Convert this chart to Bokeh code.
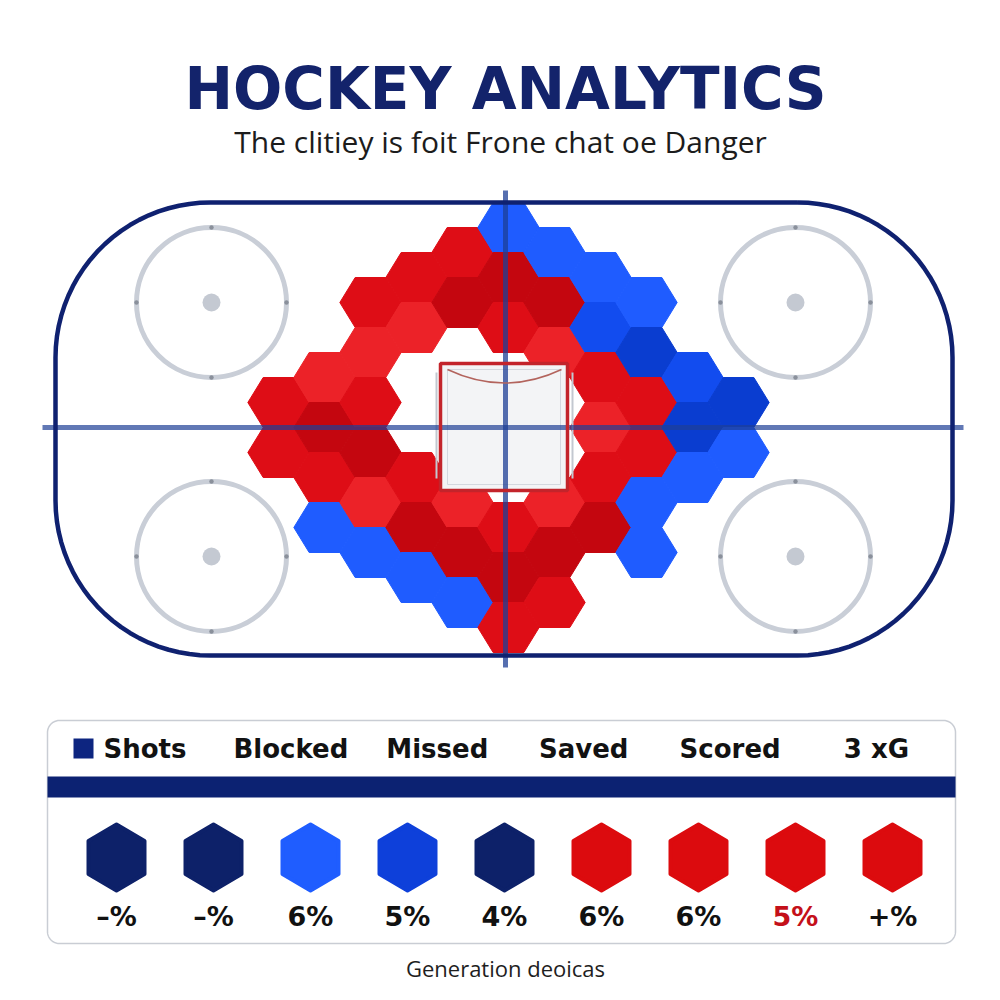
import numpy as np
from bokeh.plotting import figure
from bokeh.models import Range1d, ColumnDataSource
from bokeh.core.properties import value
from bokeh.embed import file_html
from bokeh.resources import INLINE

# ---------------- data ----------------
title = "HOCKEY ANALYTICS"
subtitle = "The clitiey is foit Frone chat oe Danger"
footer = "Generation deoicas"

# shot-location hex cells: grid column q, half-row h, zone ("R" high danger, "B" low danger), intensity level
cell_q = [-5, -5,
          -4, -4, -4, -4,
          -3, -3, -3, -3, -3, -3,
          -2, -2, -2, -2, -2,
          -1, -1, -1, -1, -1,
          0, 0, 0, 0, 0, 0,
          1, 1, 1, 1, 1, 1,
          2, 2, 2, 2, 2, 2,
          3, 3, 3, 3, 3, 3,
          4, 4, 4,
          5, 5]
cell_h = [-1, 1,
          -2, 0, 2, 4,
          -5, -3, -1, 1, 3, 5,
          -6, -4, 2, 4, 6,
          -7, -5, 3, 5, 7,
          -8, -6, -4, 4, 6, 8,
          -7, -5, -3, 3, 5, 7,
          -6, -4, -2, 0, 2, 4,
          -5, -3, -1, 1, 3, 5,
          -2, 0, 2,
          -1, 1]
cell_zone = ["R", "R",
             "R", "R", "R", "B",
             "R", "R", "R", "R", "R", "B",
             "R", "R", "R", "R", "B",
             "R", "R", "R", "R", "B",
             "B", "R", "R", "R", "R", "R",
             "B", "R", "R", "R", "R", "R",
             "B", "B", "R", "R", "R", "R",
             "B", "B", "R", "R", "B", "B",
             "B", "B", "B",
             "B", "B"]
cell_level = [1, 1,
              0, 2, 1, 0,
              1, 0, 1, 2, 0, 0,
              1, 0, 1, 2, 0,
              1, 2, 0, 2, 0,
              0, 2, 1, 1, 2, 1,
              0, 2, 0, 0, 2, 1,
              0, 1, 1, 0, 1, 2,
              0, 2, 1, 1, 0, 0,
              1, 2, 0,
              2, 0]

legend_headers = ["Shots", "Blocked", "Missed", "Saved", "Scored", "3 xG"]
legend_kinds = ["navy", "navy", "bright", "blue", "navy", "red", "red", "red", "red"]
legend_pcts = ["–%", "–%", "6%", "5%", "4%", "6%", "6%", "5%", "+%"]
legend_highlight = [False, False, False, False, False, False, False, True, False]

# ---------------- styles ----------------
NAVY = "#0f2170"
zone_palette = {("R", 0): "#ec2228", ("R", 1): "#de0d16", ("R", 2): "#c4060f",
                ("B", 0): "#1f5cff", ("B", 1): "#124cef", ("B", 2): "#0a3dd0"}
legend_palette = {"navy": "#0d2169", "bright": "#1f5dff", "blue": "#0e40da", "red": "#dc0b0e"}

p = figure(width=984, height=984, x_range=Range1d(0, 984), y_range=Range1d(984, 0),
           toolbar_location=None, output_backend="svg", min_border=0,
           x_axis_location=None, y_axis_location=None)
p.grid.visible = False
p.outline_line_color = None
p.background_fill_color = "white"
p.border_fill_color = "white"


def rounded_rect(x0, y0, x1, y1, r, n=24):
    xs, ys = [], []
    corners = [(x1 - r, y0 + r, -90, 0), (x1 - r, y1 - r, 0, 90),
               (x0 + r, y1 - r, 90, 180), (x0 + r, y0 + r, 180, 270)]
    for cx, cy, a0, a1 in corners:
        t = np.radians(np.linspace(a0, a1, n))
        xs.extend(cx + r * np.cos(t))
        ys.extend(cy + r * np.sin(t))
    xs.append(xs[0]); ys.append(ys[0])
    return xs, ys


# ---- rink: faceoff circles ----
fo_x = [211, 795, 211, 795]
fo_y = [302, 302, 556, 556]
p.circle(fo_x, fo_y, radius=75, fill_color=None, line_color="#c9ced7", line_width=5)
p.circle(fo_x, fo_y, radius=9, fill_color="#c4c9d2", line_color=None)
tx, ty = [], []
for cx, cy in zip(fo_x, fo_y):
    for dx, dy in [(0, -75), (0, 75), (-75, 0), (75, 0)]:
        tx.append(cx + dx); ty.append(cy + dy)
p.circle(tx, ty, radius=2.2, fill_color="#8a909b", line_color=None)

# ---- hex cells ----
GX0, GY0, DX, HH = 508, 427, 46, 25
S = DX / 1.5
hx, hy, hc = [], [], []
for q, h, z, lv in zip(cell_q, cell_h, cell_zone, cell_level):
    cx, cy = GX0 + DX * q, GY0 + HH * h
    hx.append([cx - S, cx - S / 2, cx + S / 2, cx + S, cx + S / 2, cx - S / 2])
    hy.append([cy, cy - HH, cy - HH, cy, cy + HH, cy + HH])
    hc.append(zone_palette[(z, lv)])
p.patches(xs="xs", ys="ys", fill_color="c", line_color="c", line_width=1,
          source=ColumnDataSource(dict(xs=hx, ys=hy, c=hc)))

# ---- goal crease box ----
p.quad(left=440, right=567, top=363, bottom=490, fill_color="#f3f4f6", line_color=None)
p.segment(x0=[436, 572], y0=[372, 372], x1=[436, 572], y1=[478, 478],
          line_color="#c3c8d0", line_width=2)
p.quad(left=447, right=560, top=369, bottom=484, fill_color=None, line_color="#d4d8de", line_width=1)

# ---- center lines ----
p.segment(x0=[505], y0=[190], x1=[505], y1=[667], line_color="#1e3f95", line_alpha=0.75, line_width=5)
p.segment(x0=[42], y0=[427], x1=[963], y1=[427], line_color="#1e3f95", line_alpha=0.7, line_width=5)

p.quad(left=440, right=567, top=363, bottom=490, fill_color=None, line_color="#c3242b", line_width=3.5)
p.quadratic(x0=[447], y0=[369], x1=[561], y1=[369], cx=[504], cy=[396],
            line_color="#b3645d", line_width=1.5)

# ---- rink boards ----
rx, ry = rounded_rect(55, 202, 952, 655, 155)
p.line(rx, ry, line_color=NAVY, line_width=4.5)

# ---- titles ----
p.text(x=[505], y=[88], text=[title], text_font=value("DejaVu Sans"), text_font_style="bold",
       text_font_size="58px", text_color="#13236b", text_align="center", text_baseline="middle")
p.text(x=[500], y=[141], text=[subtitle], text_font=value("Open Sans"),
       text_font_size="30px", text_color="#1c1c1c", text_align="center", text_baseline="middle")

# ---- legend panel ----
lx, ly = rounded_rect(47, 720, 955, 943, 12)
p.line(lx, ly, line_color="#c9cdd4", line_width=1.5)
p.quad(left=47, right=955, top=776, bottom=797, fill_color="#0c2272", line_color=None)

head_x = list(np.linspace(144, 876, len(legend_headers)))
p.quad(left=73, right=93, top=738, bottom=758, fill_color="#0d2580", line_color=None)
hdr_x = [103] + head_x[1:]
hdr_align = ["left"] + ["center"] * (len(legend_headers) - 1)
p.text(x=hdr_x, y=[748] * len(legend_headers), text=legend_headers, text_align=hdr_align,
       text_font=value("DejaVu Sans"), text_font_style="bold", text_font_size="26px",
       text_color="#121212", text_baseline="middle")

lg_x = list(np.linspace(116, 892, len(legend_pcts)))
lg_y = 857
lxs, lys, lcs = [], [], []
for cx, kind in zip(lg_x, legend_kinds):
    lxs.append([cx, cx + 28, cx + 28, cx, cx - 28, cx - 28])
    lys.append([lg_y - 33, lg_y - 16.5, lg_y + 16.5, lg_y + 33, lg_y + 16.5, lg_y - 16.5])
    lcs.append(legend_palette[kind])
p.patches(xs="xs", ys="ys", fill_color="c", line_color="c", line_width=4, line_join="round",
          source=ColumnDataSource(dict(xs=lxs, ys=lys, c=lcs)))
pct_colors = ["#c4101a" if hl else "#111111" for hl in legend_highlight]
p.text(x=lg_x, y=[916] * len(legend_pcts), text=legend_pcts, text_color=pct_colors,
       text_font=value("DejaVu Sans"), text_font_style="bold", text_font_size="27px",
       text_align="center", text_baseline="middle")

p.text(x=[505], y=[967], text=[footer], text_font=value("Open Sans"), text_font_size="22px",
       text_color="#1e1e1e", text_align="center", text_baseline="middle")

open("out.html", "w").write(file_html(p, INLINE))
